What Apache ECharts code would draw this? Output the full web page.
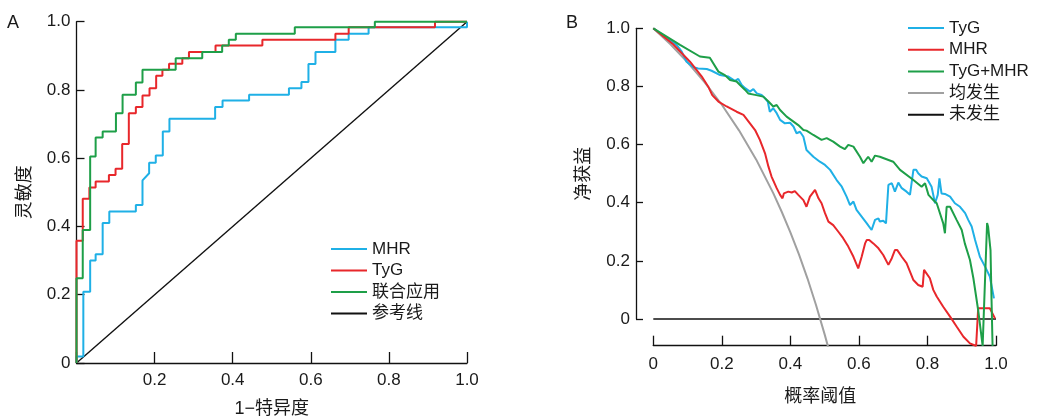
<!DOCTYPE html>
<html>
<head>
<meta charset="utf-8">
<script src="https://cdn.jsdelivr.net/npm/echarts@6/dist/echarts.min.js"></script>
<style>
html,body{margin:0;padding:0;background:#fff;}
#c{width:1040px;height:416px;}
</style>
</head>
<body>
<div id="c"></div>
<script>
// ---------- Panel A: ROC curves ----------
const axisTicks = [0, 0.2, 0.4, 0.6, 0.8, 1.0];
const rocMhrX = [0,0,0.0175,0.0175,0.035,0.035,0.049,0.049,0.067,0.067,0.084,0.084,0.152,0.152,0.169,0.169,0.186,0.186,0.203,0.203,0.221,0.221,0.238,0.238,0.355,0.355,0.374,0.374,0.442,0.442,0.544,0.544,0.576,0.576,0.594,0.594,0.612,0.612,0.663,0.663,0.697,0.697,0.748,0.748,1,1];
const rocMhrY = [0,0.019,0.019,0.209,0.209,0.300,0.300,0.319,0.319,0.410,0.410,0.444,0.444,0.463,0.463,0.535,0.556,0.587,0.587,0.608,0.608,0.678,0.678,0.716,0.716,0.750,0.750,0.769,0.769,0.786,0.786,0.805,0.805,0.823,0.823,0.876,0.876,0.911,0.911,0.947,0.947,0.965,0.965,0.984,0.984,1];
const rocTygX = [0,0,0.016,0.016,0.033,0.033,0.049,0.049,0.083,0.083,0.100,0.100,0.117,0.117,0.134,0.134,0.152,0.152,0.169,0.169,0.187,0.187,0.204,0.204,0.220,0.220,0.237,0.237,0.271,0.271,0.288,0.288,0.356,0.356,0.476,0.476,0.663,0.663,0.697,0.697,0.918,0.918,1];
const rocTygY = [0,0.358,0.358,0.481,0.481,0.514,0.514,0.532,0.532,0.551,0.551,0.569,0.569,0.642,0.642,0.732,0.732,0.750,0.750,0.784,0.784,0.805,0.805,0.842,0.842,0.859,0.859,0.877,0.877,0.893,0.893,0.911,0.911,0.930,0.930,0.947,0.947,0.965,0.965,0.984,0.984,1,1];
const rocCombX = [0,0,0.016,0.016,0.035,0.035,0.049,0.049,0.067,0.067,0.101,0.101,0.118,0.118,0.152,0.152,0.169,0.169,0.254,0.254,0.322,0.322,0.373,0.373,0.390,0.390,0.408,0.408,0.559,0.559,0.764,0.764,1];
const rocCombY = [0,0.248,0.248,0.390,0.390,0.605,0.605,0.661,0.661,0.678,0.678,0.732,0.732,0.786,0.786,0.822,0.822,0.859,0.859,0.893,0.893,0.911,0.911,0.930,0.930,0.947,0.947,0.965,0.965,0.984,0.984,1,1];
const rocRefX = [0, 1];
const rocRefY = [0, 1];

// ---------- Panel B: decision curves ----------
const dcaTygX = [0,0.068,0.083,0.097,0.117,0.131,0.156,0.170,0.195,0.219,0.238,0.248,0.258,0.268,0.282,0.292,0.302,0.316,0.326,0.334,0.340,0.350,0.360,0.370,0.384,0.399,0.409,0.418,0.428,0.438,0.447,0.467,0.486,0.501,0.516,0.535,0.550,0.564,0.574,0.584,0.593,0.608,0.623,0.637,0.647,0.657,0.661,0.671,0.679,0.686,0.696,0.705,0.715,0.725,0.739,0.749,0.759,0.767,0.773,0.783,0.798,0.812,0.822,0.830,0.835,0.841,0.851,0.866,0.880,0.895,0.910,0.919,0.929,0.939,0.953,0.968,0.982,0.994];
const dcaTygY = [1.0,0.943,0.920,0.885,0.866,0.862,0.860,0.854,0.839,0.834,0.819,0.826,0.805,0.794,0.782,0.791,0.776,0.771,0.759,0.748,0.713,0.725,0.708,0.685,0.673,0.675,0.662,0.639,0.644,0.627,0.581,0.558,0.541,0.530,0.513,0.478,0.455,0.421,0.392,0.404,0.375,0.352,0.329,0.306,0.341,0.346,0.335,0.338,0.329,0.461,0.467,0.438,0.469,0.450,0.438,0.427,0.513,0.513,0.501,0.490,0.484,0.455,0.398,0.427,0.484,0.432,0.430,0.421,0.398,0.386,0.364,0.341,0.318,0.272,0.214,0.180,0.146,0.071];
const dcaMhrX = [0,0.058,0.107,0.141,0.160,0.172,0.190,0.214,0.243,0.263,0.282,0.297,0.311,0.326,0.336,0.345,0.360,0.370,0.377,0.381,0.394,0.404,0.413,0.423,0.438,0.447,0.457,0.472,0.482,0.491,0.501,0.511,0.525,0.540,0.554,0.569,0.584,0.598,0.608,0.618,0.623,0.630,0.642,0.657,0.671,0.686,0.696,0.705,0.712,0.725,0.739,0.749,0.759,0.773,0.786,0.790,0.807,0.817,0.827,0.846,0.866,0.885,0.905,0.924,0.942,0.945,0.948,0.982,0.997];
const dcaMhrY = [1.0,0.945,0.885,0.835,0.800,0.770,0.748,0.731,0.713,0.702,0.673,0.650,0.616,0.570,0.524,0.490,0.450,0.427,0.415,0.432,0.438,0.435,0.440,0.427,0.409,0.386,0.421,0.444,0.415,0.398,0.364,0.335,0.323,0.300,0.278,0.249,0.214,0.174,0.214,0.260,0.272,0.272,0.260,0.243,0.220,0.186,0.209,0.237,0.237,0.214,0.192,0.163,0.134,0.117,0.111,0.169,0.140,0.100,0.077,0.042,0.008,-0.026,-0.061,-0.084,-0.093,-0.089,0.037,0.037,0.002];
const dcaCombX = [0,0.078,0.136,0.165,0.190,0.209,0.224,0.243,0.253,0.268,0.277,0.297,0.321,0.336,0.350,0.360,0.370,0.389,0.409,0.423,0.438,0.447,0.467,0.491,0.506,0.525,0.545,0.559,0.569,0.584,0.603,0.613,0.627,0.637,0.647,0.661,0.700,0.720,0.759,0.783,0.793,0.803,0.817,0.827,0.846,0.851,0.856,0.866,0.885,0.900,0.909,0.924,0.934,0.948,0.961,0.962,0.974,0.977,0.984,0.987,0.990];
const dcaCombY = [1.0,0.943,0.903,0.899,0.851,0.839,0.822,0.817,0.805,0.788,0.776,0.771,0.765,0.748,0.731,0.736,0.719,0.696,0.679,0.667,0.650,0.648,0.633,0.616,0.622,0.610,0.593,0.584,0.599,0.593,0.558,0.536,0.558,0.541,0.562,0.558,0.541,0.513,0.478,0.455,0.467,0.427,0.409,0.398,0.329,0.295,0.386,0.386,0.341,0.306,0.260,0.203,0.140,0.030,-0.093,-0.093,0.330,0.317,0.237,0.065,-0.093];
const dcaAllX = [0,0.05,0.1,0.15,0.2,0.25,0.3,0.35,0.375,0.4,0.425,0.45,0.475,0.5,0.51];
const dcaAllY = [1.0,0.945,0.883,0.814,0.737,0.649,0.549,0.433,0.368,0.298,0.222,0.139,0.047,-0.053,-0.096];
const dcaNoneX = [0, 1];
const dcaNoneY = [0, 0];

const zip = (xs, ys) => xs.map((x, i) => [x, ys[i]]);

const C_BLUE = '#1fb0e6', C_RED = '#e8272b', C_GREEN = '#1e9f48', C_GRAY = '#a0a0a0', C_BLACK = '#111';
const FONT = '"Liberation Sans", Arial, "Noto Sans CJK SC", sans-serif';
const TXT = '#1a1a1a';
const tickFmt = v => (Math.abs(v) < 1e-9 ? '0' : v.toFixed(1));
const axLine = {show: true, lineStyle: {color: C_BLACK, width: 1.3}};

function lineSeries(name, xs, ys, color, xi, yi, width, clip) {
  return {
    name: name, type: 'line', xAxisIndex: xi, yAxisIndex: yi,
    data: zip(xs, ys), symbol: 'none', showSymbol: false, smooth: false,
    color: color, lineStyle: {color: color, width: width}, itemStyle: {color: color},
    clip: clip, animation: false
  };
}

const chart = echarts.init(document.getElementById('c'), null, {renderer: 'canvas'});
const legendText = {fontFamily: FONT, fontSize: 17, color: TXT, lineHeight: 20};

chart.setOption({
  backgroundColor: '#fff',
  animation: false,
  title: [
    {text: 'A', left: 7, top: 14, padding: 0, textStyle: {fontFamily: FONT, fontSize: 18, fontWeight: 'normal', color: TXT}},
    {text: 'B', left: 566, top: 14, padding: 0, textStyle: {fontFamily: FONT, fontSize: 18, fontWeight: 'normal', color: TXT}}
  ],
  grid: [
    {left: 76.5, right: 573, top: 21.7, bottom: 53, outerBoundsMode: 'none', containLabel: false},
    {left: 653.3, right: 44, top: 28.3, bottom: 70.3, outerBoundsMode: 'none', containLabel: false},
    {left: 636, width: 17, top: 28.3, bottom: 97, outerBoundsMode: 'none', containLabel: false}
  ],
  xAxis: [
    {gridIndex: 0, type: 'value', min: 0, max: 1, interval: 0.2,
     name: '1\u2212特异度', nameLocation: 'middle', nameGap: 37,
     nameTextStyle: {fontFamily: FONT, fontSize: 18, color: TXT},
     axisLine: axLine, splitLine: {show: false},
     axisTick: {show: true, inside: true, length: 11, lineStyle: {color: C_BLACK, width: 1.3}},
     axisLabel: {margin: 9, fontFamily: FONT, fontSize: 17, color: TXT, formatter: v => (v === 0 ? '' : v.toFixed(1))}},
    {gridIndex: 1, type: 'value', min: 0, max: 1, interval: 0.2,
     name: '概率阈值', nameLocation: 'middle', nameGap: 42,
     nameTextStyle: {fontFamily: FONT, fontSize: 18, color: TXT, padding: [0, 9, 0, 0]},
     axisLine: Object.assign({onZero: false}, axLine), splitLine: {show: false},
     axisTick: {show: true, inside: true, length: 10, lineStyle: {color: C_BLACK, width: 1.3}},
     axisLabel: {margin: 10, fontFamily: FONT, fontSize: 17, color: TXT, formatter: tickFmt}},
    {gridIndex: 2, type: 'value', min: 0, max: 1, show: false}
  ],
  yAxis: [
    {gridIndex: 0, type: 'value', min: 0, max: 1, interval: 0.2,
     name: '灵敏度', nameLocation: 'middle', nameGap: 42, nameRotate: 90,
     nameTextStyle: {fontFamily: FONT, fontSize: 18, color: TXT},
     axisLine: axLine, splitLine: {show: false},
     axisTick: {show: true, inside: true, length: 8, lineStyle: {color: C_BLACK, width: 1.3}},
     axisLabel: {margin: 6, fontFamily: FONT, fontSize: 17, color: TXT, formatter: tickFmt}},
    {gridIndex: 1, type: 'value', min: -0.092, max: 1, show: false},
    {gridIndex: 2, type: 'value', min: 0, max: 1, interval: 0.2,
     name: '净获益', nameLocation: 'middle', nameGap: 43, nameRotate: 90,
     nameTextStyle: {fontFamily: FONT, fontSize: 18, color: TXT},
     axisLine: axLine, splitLine: {show: false},
     axisTick: {show: true, inside: true, length: 7, lineStyle: {color: C_BLACK, width: 1.3}},
     axisLabel: {margin: 6, fontFamily: FONT, fontSize: 17, color: TXT, formatter: tickFmt}}
  ],
  legend: [
    {orient: 'vertical', left: 331, top: 239, padding: 0, itemGap: 1.5,
     itemWidth: 36, itemHeight: 2, icon: 'rect', selectedMode: false,
     textStyle: legendText, formatter: n => n.slice(2),
     data: ['A-MHR', 'A-TyG', 'A-联合应用', 'A-参考线']},
    {orient: 'vertical', left: 908, top: 18, padding: 0, itemGap: 1.7,
     itemWidth: 36, itemHeight: 2, icon: 'rect', selectedMode: false,
     textStyle: legendText, formatter: n => n.slice(2),
     data: ['B-TyG', 'B-MHR', 'B-TyG+MHR', 'B-均发生', 'B-未发生']}
  ],
  series: [
    lineSeries('A-参考线', rocRefX, rocRefY, C_BLACK, 0, 0, 1.4, false),
    lineSeries('A-MHR', rocMhrX, rocMhrY, C_BLUE, 0, 0, 2, false),
    lineSeries('A-TyG', rocTygX, rocTygY, C_RED, 0, 0, 2, false),
    lineSeries('A-联合应用', rocCombX, rocCombY, C_GREEN, 0, 0, 2, false),
    lineSeries('B-未发生', dcaNoneX, dcaNoneY, C_BLACK, 1, 1, 1.5, true),
    lineSeries('B-均发生', dcaAllX, dcaAllY, C_GRAY, 1, 1, 2, true),
    lineSeries('B-TyG', dcaTygX, dcaTygY, C_BLUE, 1, 1, 2, true),
    lineSeries('B-MHR', dcaMhrX, dcaMhrY, C_RED, 1, 1, 2, true),
    lineSeries('B-TyG+MHR', dcaCombX, dcaCombY, C_GREEN, 1, 1, 2, true)
  ]
});
</script>
</body>
</html>
